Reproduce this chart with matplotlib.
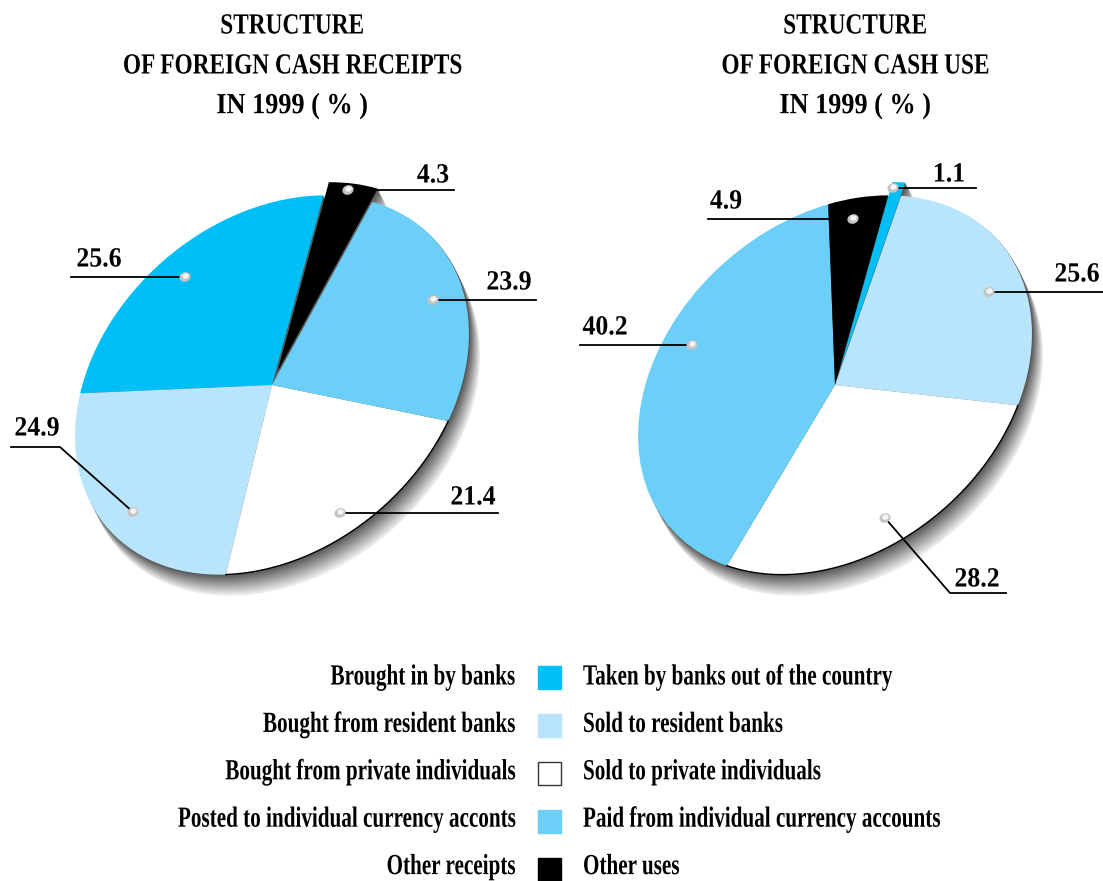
import numpy as np
import matplotlib
matplotlib.use('Agg')
import matplotlib.pyplot as plt
import matplotlib.patheffects as pe
from matplotlib.patches import Ellipse, Rectangle
from matplotlib.transforms import Affine2D

BLUE = '#00BEF6'
LIGHT = '#B8E5FB'
WHITE = '#FFFFFF'
SKY = '#6BCFF7'
BLACK = '#000000'

receipts = [25.6, 24.9, 21.4, 23.9, 4.3]
uses = [1.1, 25.6, 28.2, 40.2, 4.9]
pie_colors = [BLUE, LIGHT, WHITE, SKY, BLACK]

receipt_labels = ['Brought in by banks', 'Bought from resident banks',
                  'Bought from private individuals',
                  'Posted to individual currency acconts', 'Other receipts']
use_labels = ['Taken by banks out of the country', 'Sold to resident banks',
              'Sold to private individuals',
              'Paid from individual currency accounts', 'Other uses']

left_title = ['STRUCTURE', 'OF FOREIGN CASH RECEIPTS', 'IN 1999 ( % )']
right_title = ['STRUCTURE', 'OF FOREIGN CASH USE', 'IN 1999 ( % )']
title_squeeze = [0.8, 0.8, 0.9]

# dot, leader points and label position, in pixels from the top left
left_notes = [('4.3', (348, 190), [(348, 190), (454, 190)], (433, 175)),
              ('25.6', (185, 277), [(185, 277), (71, 277)], (99, 259)),
              ('23.9', (433, 300), [(433, 300), (536, 300)], (509, 282)),
              ('24.9', (133, 512), [(133, 512), (60, 447), (11, 447)], (37, 428)),
              ('21.4', (340, 513), [(340, 513), (498, 513)], (473, 497))]
right_notes = [('1.1', (893, 188), [(893, 188), (976, 188)], (949, 174)),
               ('4.9', (853, 219), [(853, 219), (708, 219)], (726, 201)),
               ('25.6', (989, 292), [(989, 292), (1103, 292)], (1077, 274)),
               ('40.2', (692, 345), [(692, 345), (580, 345)], (605, 327)),
               ('28.2', (885, 518), [(885, 518), (950, 593), (1006, 593)], (977, 579))]

H = 881
plt.rcParams['font.family'] = 'Liberation Serif'
plt.rcParams['font.weight'] = 'bold'


class Squeeze(pe.AbstractPathEffect):
    # narrows the glyphs around x0, the font here is wider than the original
    def __init__(self, x0, sx):
        super().__init__()
        self.x0 = x0
        self.sx = sx

    def draw_path(self, renderer, gc, tpath, affine, rgbFace=None):
        squeeze = Affine2D().translate(-self.x0, 0).scale(self.sx, 1).translate(self.x0, 0)
        renderer.draw_path(gc, tpath, affine + squeeze, rgbFace)


fig = plt.figure(figsize=(11.03, 8.81), dpi=100)
ax = fig.add_axes([0, 0, 1, 1])


def label(x, y, s, size, sx, ha='center'):
    ax.text(x, H - y, s, fontsize=size, ha=ha, va='center', color='black',
            path_effects=[Squeeze(x, sx)])


def squashed(cx, cy):
    return Affine2D().scale(218, 165).rotate_deg(41).translate(cx, H - cy) + ax.transData


def draw_pie(values, cx, cy, start, counterclock, explode):
    # grey steps under the pie make the drop shadow
    steps = np.linspace(1, 0, 12)
    for s in steps:
        grey = str(0.34 + 0.58 * s)
        wedges, _ = ax.pie(values, startangle=start, counterclock=counterclock,
                           explode=explode, colors=[grey] * 5, normalize=True)
        tf = squashed(cx + 10 * s + 1, cy + 20 * s + 1)
        for w in wedges:
            w.set_transform(tf)
    wedges, _ = ax.pie(values, startangle=start, counterclock=counterclock,
                       explode=explode, colors=pie_colors, normalize=True)
    tf = squashed(cx, cy)
    for w in wedges:
        w.set_transform(tf)
    # thin black rim under the white slice
    white = wedges[2]
    t = np.radians(np.linspace(white.theta1, white.theta2, 100))
    ax.plot(np.cos(t), np.sin(t), color='black', lw=1, transform=tf)


def draw_notes(notes):
    for text, dot, path, pos in notes:
        xs = [p[0] for p in path]
        ys = [H - p[1] for p in path]
        ax.plot(xs, ys, color='black', lw=1.3, zorder=5)
        ax.add_patch(Ellipse((dot[0], H - dot[1]), 10, 8, angle=20, color='#C4C4C4', zorder=6))
        ax.add_patch(Ellipse((dot[0] + 0.5, H - dot[1] + 1), 5, 4, angle=20, color='#F4F4F4', zorder=7))
        label(pos[0], pos[1] + 1, text, 20, 0.93)


# blue slice starts at the top of each pie
draw_pie(receipts, 272, 385, 41.5, True, [0, 0, 0, 0, 0.07])
draw_pie(uses, 835, 385, 41, False, [0.07, 0, 0, 0, 0])
draw_notes(left_notes)
draw_notes(right_notes)

for i, line in enumerate(left_title):
    label(292, 26 + 40 * i, line, 21, title_squeeze[i])
for i, line in enumerate(right_title):
    label(855, 26 + 40 * i, line, 21, title_squeeze[i])

for i in range(5):
    # text rows a little tighter than the squares so the last row stays in the frame
    label(515, 677 + 47.4 * i, receipt_labels[i], 21, 0.725, ha='right')
    label(583, 677 + 47.4 * i, use_labels[i], 21, 0.725, ha='left')
    y = 677 + 48 * i
    edge = '#333333' if pie_colors[i] == WHITE else pie_colors[i]
    ax.add_patch(Rectangle((537.5, H - y - 11.5), 23, 23, facecolor=pie_colors[i],
                           edgecolor=edge, lw=1))

ax.set_xlim(0, 1103)
ax.set_ylim(0, H)
ax.set_aspect('auto')
ax.axis('off')
fig.savefig('out.png', dpi=100, facecolor='white')
